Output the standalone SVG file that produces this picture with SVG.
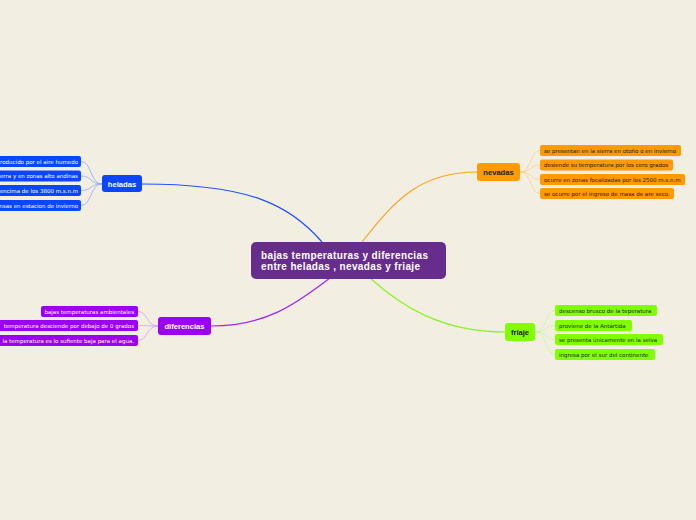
<svg xmlns="http://www.w3.org/2000/svg" width="696" height="520" viewBox="0 0 696 520">
<style>
.t{font-family:"DejaVu Sans",Verdana,sans-serif;font-size:5.5px}
.n{font-family:"Liberation Sans",Arial,sans-serif;font-size:7.6px;font-weight:bold;text-anchor:middle}
.w{fill:#ffffff}
.k{fill:#1a1a1a}
.c{fill:none}
</style>
<rect width="696" height="520" fill="#f2efe2"/>
<g id="connectors" class="c">
<path d="M142,184 C250,184 290,205 322,242" stroke="#1f4fff" stroke-width="1.2"/>
<path d="M211,326 C270,326 300,300 330,278" stroke="#a020f0" stroke-width="1.2"/>
<path d="M477,172 C420,172 395,200 362,242" stroke="#f9a21f" stroke-width="1.2"/>
<path d="M505,332 C440,332 400,305 370,278" stroke="#8cf21f" stroke-width="1.2"/>
<g stroke="#8fa6f5" stroke-width="0.8">
<path d="M102,184 C90,184 92,161.5 81,161.5"/>
<path d="M102,184 C90,184 92,176 81,176"/>
<path d="M102,184 C90,184 92,190.5 81,190.5"/>
<path d="M102,184 C90,184 92,205.5 81,205.5"/>
</g>
<g stroke="#d49cf5" stroke-width="0.8">
<path d="M158,326 C146,326 148,311.5 138,311.5"/>
<path d="M158,326 C146,326 148,325.5 138,325.5"/>
<path d="M158,326 C146,326 148,340.5 138,340.5"/>
</g>
<g stroke="#fbcf8c" stroke-width="0.8">
<path d="M520,172 C532,172 530,150.5 540,150.5"/>
<path d="M520,172 C532,172 530,165 540,165"/>
<path d="M520,172 C532,172 530,179.5 540,179.5"/>
<path d="M520,172 C532,172 530,193.5 540,193.5"/>
</g>
<g stroke="#c4f59a" stroke-width="0.8">
<path d="M535,332 C547,332 545,310.5 555,310.5"/>
<path d="M535,332 C547,332 545,325.5 555,325.5"/>
<path d="M535,332 C547,332 545,339.5 555,339.5"/>
<path d="M535,332 C547,332 545,354.5 555,354.5"/>
</g>
</g>
<g id="central">
<rect x="251" y="242" width="195" height="37" rx="5" fill="#672d8d"/>
<text x="261" y="258.5" font-family="Liberation Sans,Arial,sans-serif" font-size="10" font-weight="bold" fill="#fff" textLength="167">bajas temperaturas y diferencias</text>
<text x="261" y="270" font-family="Liberation Sans,Arial,sans-serif" font-size="10" font-weight="bold" fill="#fff" textLength="159">entre heladas , nevadas y friaje</text>
</g>
<g id="heladas">
<rect x="102" y="175" width="40" height="17" rx="3" fill="#0a45ff"/>
<text class="n w" x="122" y="186.5">heladas</text>
</g>
<g id="heladas-1"><rect x="-5" y="156" width="86" height="11" rx="2" fill="#0a45ff"/><text class="t w" x="78" y="163.5" text-anchor="end">roducido por el aire humedo</text></g>
<g id="heladas-2"><rect x="-5" y="170.5" width="86" height="11" rx="2" fill="#0a45ff"/><text class="t w" x="78" y="178" text-anchor="end">erra y en zonas alto andinas</text></g>
<g id="heladas-3"><rect x="-5" y="185" width="86" height="11" rx="2" fill="#0a45ff"/><text class="t w" x="78" y="192.5" text-anchor="end">encima de los 3800 m.s.n.m</text></g>
<g id="heladas-4"><rect x="-5" y="200" width="86" height="11" rx="2" fill="#0a45ff"/><text class="t w" x="78" y="207.5" text-anchor="end">nsas en estacion de invierno</text></g>
<g id="diferencias">
<rect x="158" y="317" width="53" height="18" rx="3" fill="#9c00f2"/>
<text class="n w" x="184.5" y="328.8">diferencias</text>
</g>
<g id="diferencias-1"><rect x="41" y="306" width="97" height="11" rx="2" fill="#9c00f2"/><text class="t w" x="134" y="313.5" text-anchor="end">bajas temperaturas ambientales</text></g>
<g id="diferencias-2"><rect x="-5" y="320" width="143" height="11" rx="2" fill="#9c00f2"/><text class="t w" x="134" y="327.5" text-anchor="end">temperatura desciende por debajo de 0 grados</text></g>
<g id="diferencias-3"><rect x="-5" y="335" width="143" height="11" rx="2" fill="#9c00f2"/><text class="t w" x="134" y="342.5" text-anchor="end">la temperatura es lo sufiente baja para el agua.</text></g>
<g id="nevadas">
<rect x="477" y="163" width="43" height="18" rx="3" fill="#ff9a00"/>
<text class="n k" x="498.5" y="175">nevadas</text>
</g>
<g id="nevadas-1"><rect x="540" y="145" width="141" height="11" rx="2" fill="#ff9a00"/><text class="t k" x="544" y="152.5">se presentan en la sierra en otoño o en invierno</text></g>
<g id="nevadas-2"><rect x="540" y="159.5" width="133" height="11" rx="2" fill="#ff9a00"/><text class="t k" x="544" y="167">desiende su temperatura por los cero grados</text></g>
<g id="nevadas-3"><rect x="540" y="174" width="145" height="11" rx="2" fill="#ff9a00"/><text class="t k" x="544" y="181.5">ocurre en zonas focalizadas por los 2500 m.s.n.m</text></g>
<g id="nevadas-4"><rect x="540" y="188" width="134" height="11" rx="2" fill="#ff9a00"/><text class="t k" x="544" y="195.5">se ocurre por el ingreso de masa de are seco.</text></g>
<g id="friaje">
<rect x="505" y="323" width="30" height="18" rx="3" fill="#80ff00"/>
<text class="n k" x="520" y="335">friaje</text>
</g>
<g id="friaje-1"><rect x="555" y="305" width="102" height="11" rx="2" fill="#80ff00"/><text class="t k" x="559" y="312.5">descenso brusco de la teperatura</text></g>
<g id="friaje-2"><rect x="555" y="320" width="77" height="11" rx="2" fill="#80ff00"/><text class="t k" x="559" y="327.5">proviene de la Antártida</text></g>
<g id="friaje-3"><rect x="555" y="334" width="108" height="11" rx="2" fill="#80ff00"/><text class="t k" x="559" y="341.5">se presenta únicamente en la selva</text></g>
<g id="friaje-4"><rect x="555" y="349" width="100" height="11" rx="2" fill="#80ff00"/><text class="t k" x="559" y="356.5">ingresa por el sur del continente</text></g>
</svg>
